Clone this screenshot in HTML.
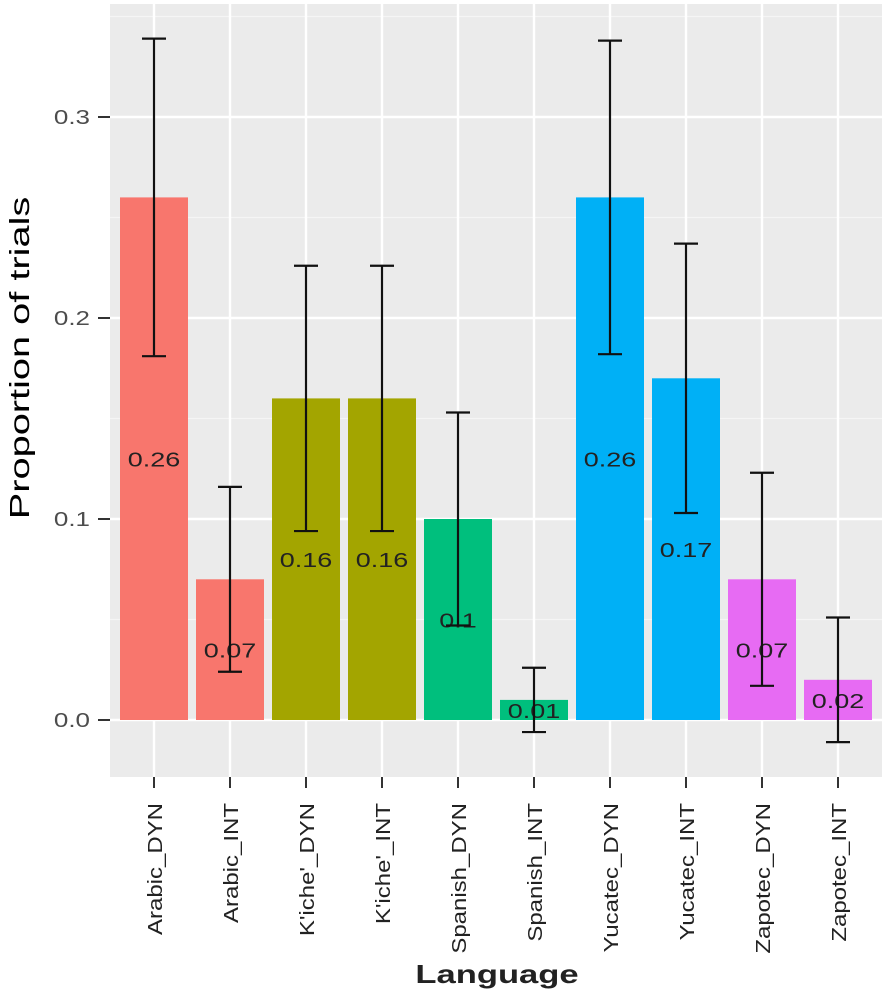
<!DOCTYPE html>
<html><head><meta charset="utf-8"><style>
body{margin:0;background:#fff;}
svg text{font-family:"Liberation Sans",sans-serif;}
</style></head><body>
<svg id="chart" width="887" height="994" xmlns="http://www.w3.org/2000/svg">
<rect x="110" y="4" width="772" height="773" fill="#EBEBEB"/>
<g id="grid"></g><g id="bars"></g><g id="axes"></g>
<text transform="translate(29,358) rotate(-90) scale(1.42,1)" text-anchor="middle" font-size="28" fill="#000">Proportion of trials</text>
<text transform="translate(497,983) scale(1.33,1)" text-anchor="middle" font-size="26" font-weight="bold" fill="#222">Language</text>
</svg>
<script>
const categories=["Arabic_DYN","Arabic_INT","K'iche'_DYN","K'iche'_INT","Spanish_DYN","Spanish_INT","Yucatec_DYN","Yucatec_INT","Zapotec_DYN","Zapotec_INT"];
const values=[0.26,0.07,0.16,0.16,0.1,0.01,0.26,0.17,0.07,0.02];
const valueLabels=["0.26","0.07","0.16","0.16","0.1","0.01","0.26","0.17","0.07","0.02"];
const lower=[0.181,0.024,0.094,0.094,0.047,-0.006,0.182,0.103,0.017,-0.011];
const upper=[0.339,0.116,0.226,0.226,0.153,0.026,0.338,0.237,0.123,0.051];
const colors=["#F8766D","#F8766D","#A3A500","#A3A500","#00BF7D","#00BF7D","#00B0F6","#00B0F6","#E76BF3","#E76BF3"];
const yTicks=[0,0.1,0.2,0.3];
const yTickLabels=["0.0","0.1","0.2","0.3"];
const yMinor=[0.05,0.15,0.25,0.35];
const NS="http://www.w3.org/2000/svg";
const y=v=>720-v*2010;
const x=i=>154+i*76.0;
const bw=68;
function mk(tag,attrs,parent,txt){const e=document.createElementNS(NS,tag);for(const k in attrs)e.setAttribute(k,attrs[k]);if(txt!==undefined)e.textContent=txt;parent.appendChild(e);return e;}
const grid=document.getElementById('grid'),bars=document.getElementById('bars'),axes=document.getElementById('axes');
yMinor.forEach(v=>{const l=mk('line',{x1:110,x2:882,y1:y(v),y2:y(v),stroke:'#F5F5F5','stroke-width':1.2},grid);

});
yTicks.forEach((v,i)=>{const l=mk('line',{x1:110,x2:882,y1:y(v),y2:y(v),stroke:'#fff','stroke-width':2.4},grid);


const t=mk('line',{x1:98,x2:110,y1:y(v),y2:y(v),stroke:'#333','stroke-width':2},axes);


const tx=mk('text',{transform:`translate(90,${y(v)+7}) scale(1.3,1)`,'text-anchor':'end','font-size':20,fill:'#4D4D4D'},axes,yTickLabels[i]);

});
categories.forEach((c,i)=>{const cx=x(i);
const g=mk('line',{x1:cx,x2:cx,y1:4,y2:777,stroke:'#fff','stroke-width':2.4},grid);


const r=mk('rect',{x:cx-bw/2,y:y(values[i]),width:bw,height:y(0)-y(values[i]),fill:colors[i]},bars);


const lb=mk('text',{transform:`translate(${cx},${(y(values[i])+y(0))/2+8}) scale(1.35,1)`,'text-anchor':'middle','font-size':20,fill:'#222'},bars,valueLabels[i]);


const eb=mk('path',{d:`M${cx-12},${y(upper[i])}H${cx+12}M${cx},${y(upper[i])}V${y(lower[i])}M${cx-12},${y(lower[i])}H${cx+12}`,stroke:'#111','stroke-width':2.2,fill:'none'},bars);


const t=mk('line',{x1:cx,x2:cx,y1:777,y2:788,stroke:'#333','stroke-width':2},axes);


const tx=mk('text',{transform:`translate(${cx+8},803) rotate(-90) scale(1.2,1)`,'text-anchor':'end','font-size':20,fill:'#222'},axes,c);

});
</script>
</body></html>
